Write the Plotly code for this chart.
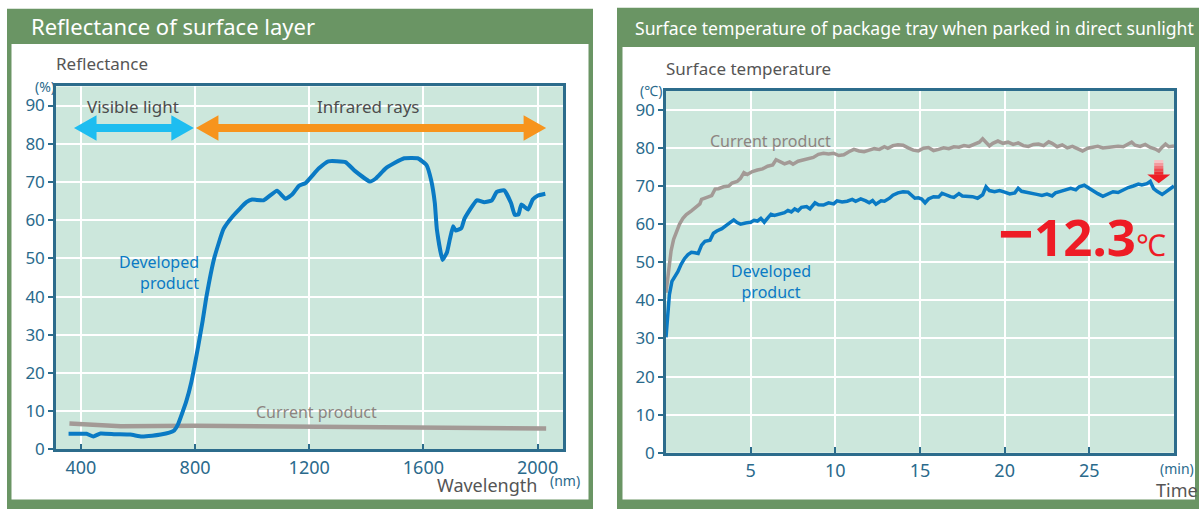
import plotly.graph_objects as go

W, H = 1199, 515

# ---------------- data: left chart (reflectance) ----------------
wavelength_dev = [357, 380, 420, 444, 469, 520, 573, 613, 650, 680, 710, 727, 740, 769, 787, 811,
                  827, 840, 867, 900, 933, 980, 1000, 1040, 1087, 1117, 1140, 1164, 1187, 1233,
                  1267, 1327, 1360, 1413, 1433, 1467, 1500, 1533, 1580, 1611, 1627, 1640, 1647,
                  1667, 1683, 1693, 1704, 1713, 1733, 1744, 1787, 1813, 1840, 1857, 1883, 1907,
                  1920, 1933, 1943, 1967, 1983, 2000, 2027]
reflect_dev = [4.1, 4.1, 4.1, 3.4, 4.2, 4.0, 3.9, 3.4, 3.6, 3.9, 4.4, 5.0, 6.5, 12.5, 17.6, 27.0,
               33.8, 40.0, 50.0, 57.7, 61.1, 64.7, 65.4, 65.2, 67.7, 65.6, 66.7, 69.0, 69.7, 73.5,
               75.4, 75.2, 72.9, 70.1, 70.9, 73.5, 75.0, 76.2, 76.2, 74.4, 70.5, 64.5, 57.7,
               49.6, 51.7, 55.1, 58.4, 57.3, 57.9, 60.4, 65.2, 64.7, 65.2, 67.4, 67.8, 64.5,
               61.4, 61.5, 64.1, 62.8, 65.4, 66.4, 66.9]
wavelength_cur = [360, 450, 540, 800, 1200, 1600, 1750, 2030]
reflect_cur = [6.8, 6.4, 6.1, 6.2, 6.0, 5.9, 5.9, 5.5]

visible_nm = [376, 796]
infrared_nm = [803, 2030]
band_arrow_y = 84.1
wl_ticks = [400, 800, 1200, 1600, 2000]
refl_ticks = [0, 10, 20, 30, 40, 50, 60, 70, 80, 90]

# ---------------- data: right chart (surface temperature) ----------------
time_cur = [0.0, 0.1, 0.2, 0.3, 0.45, 0.6, 0.8, 1.0, 1.2, 1.5, 1.8, 2.0, 2.1, 2.4, 2.7, 2.9, 3.1,
            3.4, 3.7, 3.9, 4.2, 4.4, 4.6, 4.8, 5.1, 5.4, 5.7, 6.0, 6.3, 6.5, 6.8, 7.0, 7.3, 7.5,
            7.8, 8.1, 8.4, 8.7, 9.0, 9.3, 9.6, 9.9, 10.2, 10.5, 10.8, 11.1, 11.4, 11.7, 12.0,
            12.3, 12.6, 12.9, 13.1, 13.4, 13.7, 14.0, 14.3, 14.6, 14.9, 15.2, 15.5, 15.8, 16.1,
            16.4, 16.7, 17.0, 17.3, 17.6, 17.9, 18.2, 18.5, 18.7, 18.9, 19.1, 19.3, 19.6, 19.9,
            20.2, 20.5, 20.8, 21.1, 21.4, 21.7, 22.0, 22.3, 22.6, 22.8, 23.1, 23.4, 23.7, 24.0,
            24.3, 24.6, 24.9, 25.2, 25.5, 25.8, 26.1, 26.4, 26.7, 27.0, 27.3, 27.5, 27.7, 28.0,
            28.3, 28.6, 28.9, 29.1, 29.3, 29.5, 29.7, 30.0]
temp_cur = [42.0, 46.0, 50.0, 53.0, 56.0, 58.0, 60.0, 61.5, 62.5, 63.5, 64.5, 65.3, 66.5, 67.0,
            67.5, 69.2, 69.3, 69.8, 70.0, 70.8, 71.2, 72.0, 73.5, 73.0, 73.8, 74.2, 74.5, 75.2,
            75.5, 76.9, 76.3, 75.8, 76.3, 75.7, 76.5, 76.8, 77.2, 77.5, 78.3, 78.6, 78.4, 78.6,
            78.0, 78.2, 79.0, 79.6, 79.2, 79.0, 79.4, 79.8, 79.6, 80.3, 79.9, 80.6, 80.8, 80.7,
            80.0, 79.4, 79.2, 79.9, 80.1, 79.3, 79.6, 80.0, 79.8, 80.3, 80.2, 80.6, 80.4, 81.0,
            81.5, 82.4, 81.6, 80.5, 81.2, 81.8, 81.2, 81.5, 80.9, 81.3, 80.6, 80.4, 80.9, 81.0,
            80.6, 81.6, 81.2, 80.3, 80.8, 80.0, 80.4, 79.8, 79.2, 79.9, 80.2, 80.4, 80.0, 80.2,
            80.3, 80.4, 80.3, 80.9, 81.5, 80.7, 80.4, 80.9, 80.1, 79.7, 79.2, 80.2, 81.0, 80.3,
            80.5]
time_dev = [0.0, 0.1, 0.2, 0.35, 0.5, 0.7, 0.9, 1.1, 1.3, 1.5, 1.7, 1.9, 2.1, 2.3, 2.6, 2.8, 3.0,
            3.3, 3.6, 3.8, 4.0, 4.2, 4.4, 4.7, 5.0, 5.2, 5.4, 5.6, 5.8, 6.0, 6.2, 6.4, 6.7, 7.0,
            7.2, 7.4, 7.6, 7.8, 8.0, 8.3, 8.5, 8.8, 9.0, 9.3, 9.6, 9.9, 10.1, 10.4, 10.7, 11.0,
            11.2, 11.5, 11.8, 12.0, 12.2, 12.4, 12.7, 12.9, 13.2, 13.4, 13.7, 14.0, 14.3, 14.5,
            14.7, 14.9, 15.1, 15.3, 15.5, 15.8, 16.1, 16.3, 16.6, 16.8, 17.0, 17.3, 17.5, 17.8,
            18.1, 18.4, 18.7, 18.9, 19.1, 19.4, 19.7, 20.0, 20.3, 20.6, 20.8, 21.0, 21.3, 21.6,
            21.9, 22.2, 22.5, 22.8, 23.0, 23.3, 23.6, 23.9, 24.2, 24.4, 24.7, 24.9, 25.2, 25.5,
            25.8, 26.1, 26.4, 26.7, 27.0, 27.3, 27.6, 27.9, 28.1, 28.4, 28.6, 28.8, 29.0, 29.3,
            29.5, 29.7, 30.0]
temp_dev = [30.3, 37.0, 41.5, 45.0, 46.0, 47.5, 49.5, 51.0, 52.0, 52.6, 52.5, 52.3, 54.5, 55.5,
            55.8, 57.6, 58.2, 58.8, 59.8, 60.4, 61.1, 60.4, 60.0, 60.3, 60.5, 61.0, 60.8, 61.5,
            60.5, 61.6, 62.6, 62.3, 62.6, 63.0, 63.6, 63.2, 64.0, 63.5, 64.4, 64.6, 64.0, 65.6,
            65.1, 65.0, 65.6, 65.3, 66.1, 65.8, 66.0, 66.5, 66.0, 66.6, 66.1, 65.6, 66.2, 65.2,
            66.1, 66.0, 66.8, 67.6, 68.2, 68.5, 68.4, 67.6, 66.8, 66.9, 66.6, 65.6, 66.6, 67.2,
            67.1, 68.1, 67.5, 67.2, 67.0, 68.0, 67.4, 67.3, 67.2, 66.8, 67.7, 69.8, 68.8, 68.5,
            68.8, 68.4, 67.9, 68.2, 69.4, 68.6, 68.4, 68.1, 67.8, 67.5, 67.9, 67.4, 68.2, 68.6,
            68.9, 69.4, 69.0, 69.8, 70.2, 69.6, 68.8, 68.0, 67.3, 68.0, 68.5, 68.3, 69.0, 69.6,
            70.0, 70.5, 70.3, 70.6, 71.2, 69.3, 68.6, 67.8, 68.4, 69.0, 70.0]
time_ticks = [5, 10, 15, 20, 25]
temp_ticks = [0, 10, 20, 30, 40, 50, 60, 70, 80, 90]
reduction_t = 29.1
reduction_top, reduction_tip = 76.8, 70.7
reduction_text = "12.3"

# ---------------- styling ----------------
FONT = "Noto Sans"
GREEN = "#6a9564"
PLOT_BG = "#cce7dc"
AXIS = "#2c6c8c"
TICK_TXT = "#2a6a8c"
BLUE = "#0a7ac4"
GRAY = "#a39a96"
LABEL_GRAY = "#555555"
CYAN = "#1ebdf0"
ORANGE = "#f7941d"
RED = "#ee1c25"

def px(x):
    return x / W

def py(y):
    return 1 - y / H

L_DOM_X = [px(56), px(563)]
L_DOM_Y = [py(459.3), py(88.3)]
R_DOM_X = [px(666), px(1174)]
R_DOM_Y = [py(462.7), py(92.7)]

fig = go.Figure()

def double_arrow(x0, x1, yc, head_len, head_h, shaft_h):
    xs = [x0, x0 + head_len, x0 + head_len, x1 - head_len, x1 - head_len, x1,
          x1 - head_len, x1 - head_len, x0 + head_len, x0 + head_len, x0]
    ys = [yc, yc + head_h, yc + shaft_h, yc + shaft_h, yc + head_h, yc,
          yc - head_h, yc - shaft_h, yc - shaft_h, yc - head_h, yc]
    return xs, ys

for rng, col in [(visible_nm, CYAN), (infrared_nm, ORANGE)]:
    xs, ys = double_arrow(rng[0], rng[1], band_arrow_y, 79, 3.35, 1.05)
    fig.add_trace(go.Scatter(x=xs, y=ys, fill="toself", fillcolor=col, mode="none",
                             hoverinfo="skip", showlegend=False, xaxis="x", yaxis="y"))

fig.add_trace(go.Scatter(x=wavelength_cur, y=reflect_cur, mode="lines",
                         line=dict(color=GRAY, width=4.5), showlegend=False,
                         xaxis="x", yaxis="y"))
fig.add_trace(go.Scatter(x=wavelength_dev, y=reflect_dev, mode="lines",
                         line=dict(color=BLUE, width=4, shape="spline", smoothing=0.4),
                         showlegend=False, xaxis="x", yaxis="y"))

fig.add_trace(go.Scatter(x=time_cur, y=temp_cur, mode="lines",
                         line=dict(color=GRAY, width=3.5), showlegend=False,
                         xaxis="x2", yaxis="y2"))
fig.add_trace(go.Scatter(x=time_dev, y=temp_dev, mode="lines",
                         line=dict(color=BLUE, width=3.5), showlegend=False,
                         xaxis="x2", yaxis="y2"))

# red down arrow with a gradient shaft
shaft_w, head_w = 0.27, 0.68
head_start = reduction_tip + 2.3
grad = ["#f6c3c5", "#f39a9e", "#f17378", "#ef4a50", "#ee2a31"]
n = len(grad)
for i, c in enumerate(grad):
    y_hi = reduction_top - (reduction_top - head_start) * i / n
    y_lo = reduction_top - (reduction_top - head_start) * (i + 1) / n
    fig.add_trace(go.Scatter(
        x=[reduction_t - shaft_w, reduction_t + shaft_w, reduction_t + shaft_w,
           reduction_t - shaft_w, reduction_t - shaft_w],
        y=[y_hi, y_hi, y_lo - 0.05, y_lo - 0.05, y_hi],
        fill="toself", fillcolor=c, mode="none", hoverinfo="skip",
        showlegend=False, xaxis="x2", yaxis="y2"))
fig.add_trace(go.Scatter(
    x=[reduction_t - head_w, reduction_t + head_w, reduction_t, reduction_t - head_w],
    y=[head_start, head_start, reduction_tip, head_start],
    fill="toself", fillcolor=RED, mode="none", hoverinfo="skip",
    showlegend=False, xaxis="x2", yaxis="y2"))

# ---------------- frames ----------------
shapes = []
def rect(x0, y0, x1, y1, color):
    shapes.append(dict(type="rect", xref="paper", yref="paper",
                       x0=px(x0), x1=px(x1), y0=py(y1), y1=py(y0),
                       fillcolor=color, line=dict(width=0), layer="below"))

rect(7, 9, 593, 520, GREEN)
rect(11.5, 45, 588.5, 510.5, "white")
rect(617, 8, 1210, 520, GREEN)
rect(622.5, 48, 1195, 510.5, "white")
shapes.append(dict(type="rect", xref="paper", yref="paper", x0=L_DOM_X[0], x1=L_DOM_X[1],
                   y0=L_DOM_Y[0], y1=L_DOM_Y[1], fillcolor=PLOT_BG, line=dict(width=0),
                   layer="below"))
shapes.append(dict(type="rect", xref="paper", yref="paper", x0=R_DOM_X[0], x1=R_DOM_X[1],
                   y0=R_DOM_Y[0], y1=R_DOM_Y[1], fillcolor=PLOT_BG, line=dict(width=0),
                   layer="below"))

# ---------------- annotations ----------------
ann = []
def ptext(text, x, y, size, color, xanchor="left", yanchor="middle"):
    ann.append(dict(text=text, x=px(x), y=py(y), xref="paper", yref="paper",
                    showarrow=False, xanchor=xanchor, yanchor=yanchor,
                    font=dict(family=FONT, size=size, color=color)))

def dtext(text, x, y, size, color, xr, yr, xanchor="center", yanchor="middle", align="center"):
    ann.append(dict(text=text, x=x, y=y, xref=xr, yref=yr, showarrow=False,
                    xanchor=xanchor, yanchor=yanchor, align=align,
                    font=dict(family=FONT, size=size, color=color)))

ptext("Reflectance of surface layer", 29, 27, 22, "white")
ptext("Surface temperature of package tray when parked in direct sunlight", 633, 29, 17.6, "white")
ptext("Reflectance", 54, 65, 17, LABEL_GRAY)
ptext("Surface temperature", 664, 70, 17, LABEL_GRAY)
ptext("(%)", 45, 88, 14, TICK_TXT, xanchor="center")
ptext("(℃)", 651, 92, 14, TICK_TXT, xanchor="center")
ptext("Wavelength", 487, 496, 18, LABEL_GRAY, xanchor="center")
ptext("(nm)", 565, 491, 14, TICK_TXT, xanchor="center")
ptext("(min)", 1177, 479, 14, TICK_TXT, xanchor="center")
ptext("Time", 1177, 501, 18, LABEL_GRAY, xanchor="center")

dtext("Visible light", sum(visible_nm) / 2 - 4, 89.7, 17, "#4d4d4d", "x", "y")
dtext("Infrared rays", 1406, 89.7, 17, "#4d4d4d", "x", "y")
dtext("Developed<br>product", 822, 46.2, 16, BLUE, "x", "y", xanchor="right", align="right")
dtext("Current product", 1224, 9.9, 16, "#8c8480", "x", "y")
dtext("Current product", 6.2, 81.8, 16, "#8c8480", "x2", "y2")
dtext("Developed<br>product", 6.2, 44.9, 16, BLUE, "x2", "y2")
ann.append(dict(text="<span style='font-size:62px'>−</span>" + reduction_text
                + "<span style='font-size:30px;font-weight:normal'>℃</span>",
                x=29.65, y=57.9, xref="x2", yref="y2", showarrow=False,
                xanchor="right", yanchor="middle",
                font=dict(family=FONT, size=51, color=RED, weight="bold")))

axis_common = dict(showline=True, mirror=True, linecolor=AXIS, linewidth=2.5,
                   showgrid=True, gridcolor="white", gridwidth=1.5, zeroline=False,
                   tickcolor=AXIS, tickwidth=1.5, fixedrange=True)

fig.update_layout(
    width=W, height=H, margin=dict(l=0, r=0, t=0, b=0), autosize=False,
    paper_bgcolor="white", plot_bgcolor="rgba(0,0,0,0)",
    shapes=shapes, annotations=ann, showlegend=False,
    font=dict(family=FONT),
    xaxis=dict(domain=L_DOM_X, range=[313, 2089], tickvals=wl_ticks,
               ticks="inside", ticklen=6, anchor="y",
               tickfont=dict(family=FONT, size=18, color=TICK_TXT), **axis_common),
    yaxis=dict(domain=L_DOM_Y, range=[0, 95], tickvals=refl_ticks,
               ticks="outside", ticklen=5, anchor="x",
               tickfont=dict(family=FONT, size=17, color=TICK_TXT), **axis_common),
    xaxis2=dict(domain=R_DOM_X, range=[0, 30], tickvals=time_ticks,
                ticks="inside", ticklen=6, anchor="y2",
                tickfont=dict(family=FONT, size=18, color=TICK_TXT), **axis_common),
    yaxis2=dict(domain=R_DOM_Y, range=[0, 95], tickvals=temp_ticks,
                ticks="outside", ticklen=5, anchor="x2",
                tickfont=dict(family=FONT, size=17, color=TICK_TXT), **axis_common),
)

page_fix = (
    "var st=document.createElement('style');"
    "st.textContent='html,body{margin:0;padding:0;overflow:hidden;}';"
    "document.head.appendChild(st);"
)

fig.write_html("out.html", config={"displayModeBar": False, "responsive": False},
               post_script=page_fix)
